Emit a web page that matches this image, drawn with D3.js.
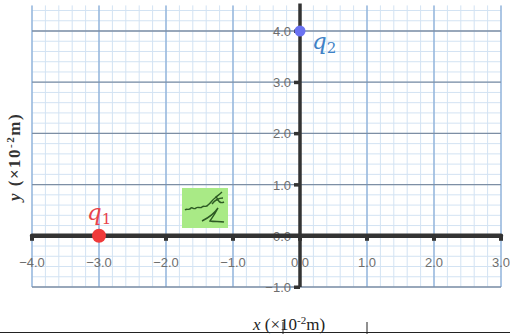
<!DOCTYPE html>
<html>
<head>
<meta charset="utf-8">
<script src="https://cdn.jsdelivr.net/npm/d3@7"></script>
<style>
  body { margin: 0; background: #fff; }
  svg { display: block; }
</style>
</head>
<body>
<div id="chart"></div>
<script>
// axis values (x10^-2 m)
var xTicks = [-4, -3, -2, -1, 0, 1, 2, 3];
var yTicks = [-1, 0, 1, 2, 3, 4];
// point charges
var chargeNames = ['1', '2'];
var chargeX = [-3, 0];
var chargeY = [0, 4];

var W = 510, H = 334;
var x = d3.scaleLinear().domain([-4, 3]).range([32, 501]);
var y = d3.scaleLinear().domain([-1, 4]).range([287, 31]);
var yTop = 4.5;

var svg = d3.select('#chart').append('svg')
    .attr('width', W)
    .attr('height', H);

// grid - minor lines every 0.2
var minorX = d3.range(-4, 3.001, 0.2);
var minorY = d3.range(-1, yTop + 0.001, 0.2);
var grid = svg.append('g').attr('class', 'grid');

grid.selectAll('.mx').data(minorX).enter().append('line')
    .attr('x1', function (d) { return x(d); })
    .attr('x2', function (d) { return x(d); })
    .attr('y1', y(yTop)).attr('y2', y(-1))
    .attr('stroke', '#d3e3f3').attr('stroke-width', 1);

grid.selectAll('.my').data(minorY).enter().append('line')
    .attr('y1', function (d) { return y(d); })
    .attr('y2', function (d) { return y(d); })
    .attr('x1', x(-4)).attr('x2', x(3))
    .attr('stroke', '#d3e3f3').attr('stroke-width', 1);

// major lines
grid.selectAll('.Mx').data(xTicks).enter().append('line')
    .attr('x1', function (d) { return x(d); })
    .attr('x2', function (d) { return x(d); })
    .attr('y1', y(yTop)).attr('y2', y(-1))
    .attr('stroke', '#84aad6').attr('stroke-width', 1.2);

grid.selectAll('.My').data(yTicks).enter().append('line')
    .attr('y1', function (d) { return y(d); })
    .attr('y2', function (d) { return y(d); })
    .attr('x1', x(-4)).attr('x2', x(3))
    .attr('stroke', '#7d8ea4').attr('stroke-width', 1.3);

// signature box
var sig = svg.append('g').attr('transform', 'translate(182,188)');
sig.append('rect').attr('width', 46).attr('height', 40).attr('fill', '#a9ea86');
sig.append('path')
    .attr('d', 'M3,22 C5,20 7,23 9,20 C11,19 12,22 14,20 C16,18 18,21 20,19 C22,17 24,20 26,17 C29,15 30,12 33,10 C35,8 37,7 40,4 M30,16 C33,12 36,10 41,10 M34,8 C36,13 38,16 42,14 M20,33 C26,30 32,26 36,20 C33,26 30,30 28,33 C32,34 38,33 42,34')
    .attr('fill', 'none').attr('stroke', '#2d5a24').attr('stroke-width', 1.4);

var fmt = d3.format('.1f');
var labelFont = '"Liberation Sans", Arial, sans-serif';

// tick labels
svg.append('g').selectAll('text').data(xTicks).enter().append('text')
    .attr('x', function (d) { return x(d); })
    .attr('y', y(0) + 31)
    .attr('text-anchor', 'middle')
    .attr('font-family', labelFont)
    .attr('font-size', 13)
    .attr('fill', '#6e6e6e')
    .text(fmt);

svg.append('g').selectAll('text').data(yTicks).enter().append('text')
    .attr('x', x(0) - 9)
    .attr('y', function (d) { return y(d) + 5; })
    .attr('text-anchor', 'end')
    .attr('font-family', labelFont)
    .attr('font-size', 13)
    .attr('fill', '#6e6e6e')
    .text(fmt);

// axes
var axisColor = '#333';
svg.append('line')
    .attr('x1', x(-4)).attr('x2', x(3))
    .attr('y1', y(0)).attr('y2', y(0))
    .attr('stroke', axisColor).attr('stroke-width', 4.5)
    .attr('stroke-linecap', 'round');

svg.append('line')
    .attr('x1', x(0)).attr('x2', x(0))
    .attr('y1', y(-1)).attr('y2', y(yTop) - 2)
    .attr('stroke', axisColor).attr('stroke-width', 3.5);

svg.append('g').selectAll('rect').data(xTicks).enter().append('rect')
    .attr('x', function (d) { return x(d) - 2; })
    .attr('y', y(0))
    .attr('width', 4).attr('height', 5)
    .attr('fill', axisColor);

svg.append('g').selectAll('rect').data(yTicks).enter().append('rect')
    .attr('x', x(0) - 6)
    .attr('y', function (d) { return y(d) - 1.5; })
    .attr('width', 6).attr('height', 3.5)
    .attr('fill', axisColor);

// axis titles
svg.append('text')
    .attr('transform', 'translate(20,157) rotate(-90)')
    .attr('text-anchor', 'middle')
    .attr('font-family', '"Liberation Serif", "Times New Roman", serif')
    .attr('font-size', 17)
    .attr('font-weight', 'bold')
    .attr('letter-spacing', 1.5)
    .attr('fill', '#333')
    .html('<tspan font-style="italic">y</tspan> (×10<tspan baseline-shift="super" font-size="11">-2</tspan>m)');

svg.append('text')
    .attr('x', 289)
    .attr('y', 330)
    .attr('text-anchor', 'middle')
    .attr('font-family', '"Liberation Serif", "Times New Roman", serif')
    .attr('font-size', 17)
    .attr('fill', '#222')
    .html('<tspan font-style="italic">x</tspan> (×10<tspan baseline-shift="super" font-size="11">-2</tspan>m)');

// table line at bottom
svg.append('line')
    .attr('x1', 0).attr('x2', W).attr('y1', 332.5).attr('y2', 332.5)
    .attr('stroke', '#222').attr('stroke-width', 1);
svg.selectAll('.tv').data([283, 367]).enter().append('line')
    .attr('x1', function (d) { return d; }).attr('x2', function (d) { return d; })
    .attr('y1', 322).attr('y2', 334)
    .attr('stroke', '#222').attr('stroke-width', 1);

// charges
var pointColors = ['#f03a3a', '#6a72f2'];
var textColors = ['#e8434b', '#3f82c6'];
var radii = [7, 5.5];
var labelDx = [-12, 12];
var labelDy = [-16, 18];

var charges = svg.append('g').selectAll('g')
    .data(chargeNames).enter().append('g');

charges.append('circle')
    .attr('cx', function (d, i) { return x(chargeX[i]); })
    .attr('cy', function (d, i) { return y(chargeY[i]); })
    .attr('r', function (d, i) { return radii[i]; })
    .attr('fill', function (d, i) { return pointColors[i]; });

var qt = charges.append('text')
    .attr('x', function (d, i) { return x(chargeX[i]) + labelDx[i]; })
    .attr('y', function (d, i) { return y(chargeY[i]) + labelDy[i]; })
    .attr('font-family', '"DejaVu Serif", "Liberation Serif", serif')
    .attr('font-size', 23)
    .attr('fill', function (d, i) { return textColors[i]; });
qt.append('tspan').attr('font-style', 'italic').text('q');
qt.append('tspan').attr('font-size', 15).attr('dy', 4).text(function (d) { return d; });
</script>
</body>
</html>
